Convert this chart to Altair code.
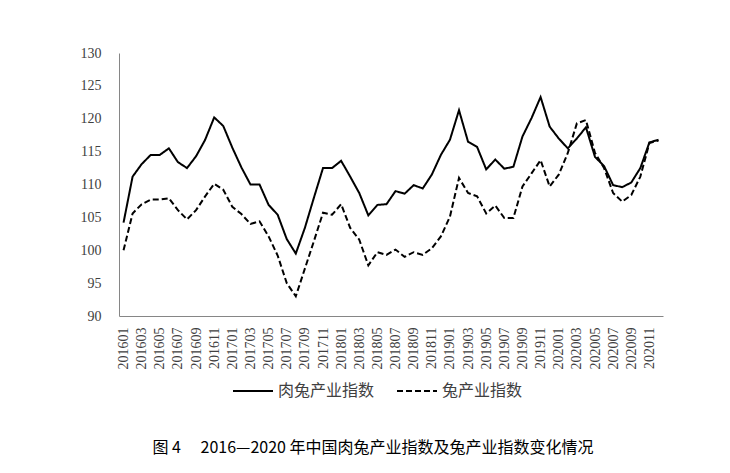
import altair as alt
import pandas as pd

months = [
    "201601", "201602", "201603", "201604", "201605", "201606",
    "201607", "201608", "201609", "201610", "201611", "201612",
    "201701", "201702", "201703", "201704", "201705", "201706",
    "201707", "201708", "201709", "201710", "201711", "201712",
    "201801", "201802", "201803", "201804", "201805", "201806",
    "201807", "201808", "201809", "201810", "201811", "201812",
    "201901", "201902", "201903", "201904", "201905", "201906",
    "201907", "201908", "201909", "201910", "201911", "201912",
    "202001", "202002", "202003", "202004", "202005", "202006",
    "202007", "202008", "202009", "202010", "202011", "202012",
]

tick_labels = [
    "201601", "201603", "201605", "201607", "201609", "201611",
    "201701", "201703", "201705", "201707", "201709", "201711",
    "201801", "201803", "201805", "201807", "201809", "201811",
    "201901", "201903", "201905", "201907", "201909", "201911",
    "202001", "202003", "202005", "202007", "202009", "202011",
]

y_ticks = [90, 95, 100, 105, 110, 115, 120, 125, 130]

series_names = ["肉兔产业指数", "兔产业指数"]

meat_rabbit_index = [
    104.2, 111.2, 113.1, 114.5, 114.5, 115.5, 113.4, 112.5, 114.3, 116.8, 120.2, 118.9,
    115.6, 112.6, 110.0, 110.0, 106.9, 105.4, 101.7, 99.5, 103.4, 108.0, 112.5, 112.5,
    113.6, 111.2, 108.7, 105.3, 106.9, 107.0, 109.0, 108.6, 109.9, 109.4, 111.5, 114.5,
    116.8, 121.3, 116.5, 115.7, 112.3, 113.8, 112.4, 112.7, 117.3, 120.1, 123.3, 118.8,
    117.0, 115.5, 117.0, 118.7, 114.2, 112.8, 109.9, 109.6, 110.3, 112.5, 116.4, 116.8,
]

rabbit_index = [
    100.0, 105.6, 107.0, 107.7, 107.7, 107.9, 106.1, 104.7, 106.1, 108.2, 110.1, 109.2,
    106.6, 105.5, 104.0, 104.4, 102.1, 99.2, 95.0, 93.0, 97.2, 101.4, 105.7, 105.4,
    107.0, 103.4, 101.6, 97.7, 99.7, 99.3, 100.1, 99.0, 99.7, 99.3, 100.3, 102.1,
    105.1, 111.0, 108.7, 108.2, 105.6, 106.8, 104.9, 104.9, 109.7, 111.7, 113.7, 109.7,
    111.5, 114.8, 119.3, 119.8, 114.8, 112.5, 108.7, 107.4, 108.4, 111.2, 116.3, 116.7,
]

title_text = "图 4\u3000  2016—2020 年中国肉兔产业指数及兔产业指数变化情况"

df = pd.DataFrame({
    "month": months + months,
    "value": meat_rabbit_index + rabbit_index,
    "series": [series_names[0]] * len(months) + [series_names[1]] * len(months),
})

axis_font = "Liberation Serif"
cjk_font = "Noto Sans CJK SC"

chart = alt.Chart(df).mark_line(strokeWidth=2, color="black").encode(
    x=alt.X(
        "month:O",
        sort=months,
        scale=alt.Scale(type="point", padding=0.5),
        axis=alt.Axis(
            values=tick_labels,
            labelAngle=270,
            labelFont=axis_font,
            labelFontSize=14,
            labelColor="#404040",
            labelPadding=11,
            ticks=False,
            domainColor="#868686",
            domainWidth=1,
            grid=False,
            labelOverlap=False,
        ),
        title=None,
    ),
    y=alt.Y(
        "value:Q",
        scale=alt.Scale(domain=[90, 130], nice=False, zero=False),
        axis=alt.Axis(
            values=y_ticks,
            labelFont=axis_font,
            labelFontSize=14,
            labelColor="#404040",
            labelPadding=18,
            ticks=False,
            domainColor="#868686",
            domainWidth=1,
            grid=False,
        ),
        title=None,
    ),
    strokeDash=alt.StrokeDash(
        "series:N",
        sort=series_names,
        scale=alt.Scale(domain=series_names, range=[[1, 0], [6, 3]]),
        legend=alt.Legend(
            title=None,
            orient="none",
            direction="horizontal",
            legendX=113,
            legendY=317,
            symbolType="stroke",
            symbolSize=1600,
            symbolStrokeWidth=2,
            symbolStrokeColor="black",
            labelFont=cjk_font,
            labelFontSize=16,
            labelColor="#404040",
            labelOffset=4,
            columnPadding=18,
        ),
    ),
).properties(
    width=544,
    height=263,
    title=alt.TitleParams(
        text=title_text,
        orient="bottom",
        anchor="middle",
        frame="group",
        dx=-18,
        offset=41,
        font=cjk_font,
        fontSize=16,
        fontWeight="normal",
        color="black",
    ),
    autosize=alt.AutoSizeParams(type="none"),
    padding={"left": 119, "top": 53, "right": 67, "bottom": 157},
).configure_view(stroke=None)

chart.save("out.html", embed_options={"renderer": "svg", "actions": False})
